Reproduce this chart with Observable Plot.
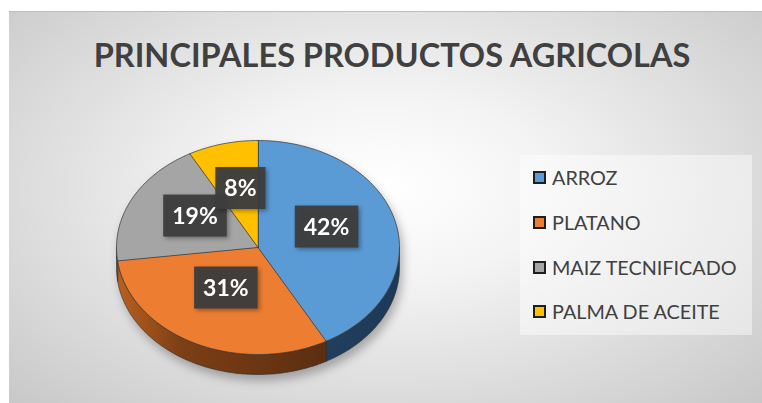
<!DOCTYPE html>
<html>
<head>
<meta charset="utf-8">
<script src="https://cdn.jsdelivr.net/npm/d3@7"></script>
<script src="https://cdn.jsdelivr.net/npm/@observablehq/plot@0.6"></script>
<style>
  body { margin: 0; background: #fff; }
  #page { position: relative; width: 762px; height: 403px; overflow: hidden; background: #fff; font-family: Lato, "Open Sans", sans-serif; }
  #chart { position: absolute; left: 9px; top: 11px; width: 753px; height: 392px;
    background: radial-gradient(ellipse farthest-corner at 50% 45%, #ffffff 0%, #f4f4f4 30%, #c8c8c8 100%);
    border-top: 1px solid #bdbdbd; box-sizing: border-box; }
  #title { position: absolute; left: 0; width: 784px; top: 35px; text-align: center; font-size: 32.5px; font-weight: bold; color: #404040; line-height: normal; white-space: nowrap; }
  #plotwrap { position: absolute; left: 0; top: 0; width: 520px; height: 403px; filter: drop-shadow(3px 6px 5px rgba(0,0,0,0.28)); }
  #legend { position: absolute; left: 520px; top: 155px; width: 232px; height: 180px; background: rgba(255,255,255,0.45); }
  .row { height: 44.7px; display: flex; align-items: center; padding-left: 13px; font-size: 19.8px; color: #404040; white-space: nowrap; }
  .key { width: 9px; height: 9px; border: 2px solid #1e1e1e; margin-right: 6px; margin-top: 1px; flex: none; }
</style>
</head>
<body>
<div id="page">
  <div id="chart"></div>
  <div id="title"></div>
  <div id="plotwrap"></div>
  <div id="legend"></div>
</div>
<script>
const title = "PRINCIPALES PRODUCTOS AGRICOLAS";
const categories = ["ARROZ", "PLATANO", "MAIZ TECNIFICADO", "PALMA DE ACEITE"];
const values = [42, 31, 19, 8];
const colors = ["#5b9bd5", "#ed7d31", "#a5a5a5", "#ffc000"];
const sideColors = ["url(#sideBlue)", "url(#sideOrange)", "#5e5e5e", "#8a6a00"];

document.getElementById("title").textContent = title;

const total = d3.sum(values);
const depth = 0.187; // pie thickness in y-units
const rad = Math.PI / 180;

let acc = 0;
const slices = categories.map((c, i) => {
  const a0 = acc / total * 360;
  acc += values[i];
  const a1 = acc / total * 360;
  return { c, i, v: values[i], a0, a1 };
});

function arcPts(a0, a1, off = 0) {
  const n = Math.max(2, Math.ceil(a1 - a0));
  const pts = [];
  for (let k = 0; k <= n; k++) {
    const t = (a0 + (a1 - a0) * k / n) * rad;
    pts.push({ x: Math.sin(t), y: Math.cos(t) - off });
  }
  return pts;
}

const marks = [];
slices.forEach(s => {
  const s0 = Math.max(s.a0, 90), s1 = Math.min(s.a1, 270);
  if (s1 > s0) {
    const top = arcPts(s0, s1, 0);
    const bot = arcPts(s0, s1, depth).reverse();
    marks.push(Plot.line([...top, ...bot], {
      x: "x", y: "y", curve: "linear-closed",
      fill: sideColors[s.i], stroke: "#2a2a2a", strokeWidth: 0.6
    }));
  }
});
slices.forEach(s => {
  const pts = [{ x: 0, y: 0 }, ...arcPts(s.a0, s.a1, 0)];
  marks.push(Plot.line(pts, {
    x: "x", y: "y", curve: "linear-closed",
    fill: colors[s.i], stroke: "#3a3a3a", strokeWidth: 0.75
  }));
});
const labels = slices.map(s => {
  const m = (s.a0 + s.a1) / 2 * rad;
  return { x: 0.5 * Math.sin(m), y: 0.5 * Math.cos(m), t: Math.round(s.v / total * 100) + "%" };
});
marks.push(Plot.text(labels, {
  x: "x", y: "y", text: "t", dy: -7,
  fill: "white", fontSize: 23, fontWeight: "bold", fontFamily: "Lato, 'Open Sans', sans-serif"
}));

const plot = Plot.plot({
  width: 520, height: 403, margin: 0,
  x: { domain: [-1, 1], range: [116, 399], axis: null },
  y: { domain: [-1, 1], range: [354, 140], axis: null },
  style: { background: "transparent", overflow: "visible" },
  marks
});
document.getElementById("plotwrap").appendChild(plot);

const svg = d3.select(plot);
svg.insert("defs", ":first-child").html(`
  <linearGradient id="sideOrange" x1="0" x2="1" y1="0" y2="0">
    <stop offset="0" stop-color="#b9601f"/>
    <stop offset="0.3" stop-color="#7d3f15"/>
    <stop offset="1" stop-color="#5b2e10"/>
  </linearGradient>
  <linearGradient id="sideBlue" x1="0" x2="1" y1="0" y2="0">
    <stop offset="0" stop-color="#213f5e"/>
    <stop offset="1" stop-color="#1d3957"/>
  </linearGradient>`);

svg.selectAll("g[aria-label=text] text").each(function () {
  const b = this.getBBox();
  const padX = 9, padY = 7;
  d3.select(this.parentNode).insert("rect", () => this)
    .attr("x", b.x - padX).attr("y", b.y - padY + 1)
    .attr("width", b.width + 2 * padX).attr("height", b.height + 2 * padY)
    .attr("fill", "#3d3d3d").attr("fill-opacity", 0.96)
    .attr("transform", this.getAttribute("transform"))
    .style("filter", "drop-shadow(2px 2px 2px rgba(0,0,0,0.35))");
});

const legend = d3.select("#legend");
categories.forEach((c, i) => {
  const row = legend.append("div").attr("class", "row");
  row.append("div").attr("class", "key").style("background", colors[i]);
  row.append("span").text(c);
});
</script>
</body>
</html>
